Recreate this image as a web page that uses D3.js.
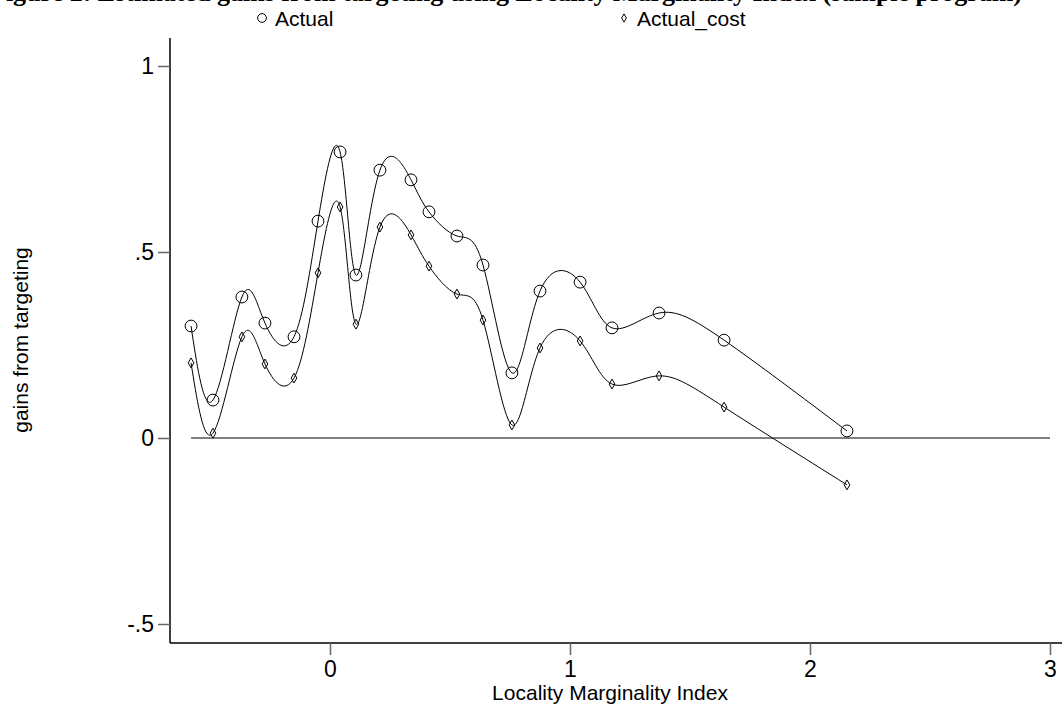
<!DOCTYPE html>
<html><head><meta charset="utf-8">
<script src="https://cdn.jsdelivr.net/npm/d3@7"></script>
<style>body{margin:0;background:#fff}text{font-family:"Liberation Sans",Arial,sans-serif}</style>
</head><body>
<script>
var xVals = [-0.579,-0.4875,-0.367,-0.271,-0.15,-0.05,0.042,0.108,0.208,0.3375,0.4125,0.529,0.6375,0.758,0.875,1.042,1.175,1.371,1.642,2.154];
var actual = [0.301,0.102,0.379,0.309,0.272,0.583,0.769,0.438,0.720,0.694,0.608,0.543,0.465,0.175,0.395,0.419,0.296,0.336,0.263,0.019];
var actualCost = [0.202,0.013,0.272,0.199,0.161,0.444,0.621,0.306,0.567,0.546,0.462,0.387,0.317,0.035,0.242,0.261,0.145,0.167,0.083,-0.126];
var xTicks = [0,1,2,3];
var yTicks = [-0.5,0,0.5,1];
var yLabels = ["-.5","0",".5","1"];

var WIDTH=1062,HEIGHT=710;
var _xScale = d3.scaleLinear().domain([0,3]).range([330,1050]);
var _yScale = d3.scaleLinear().domain([0,1]).range([438,66]);

var _svg = d3.select('body').append('svg').attr('width',WIDTH).attr('height',HEIGHT);

// clipped title
_svg.append('text').attr('x',-10).attr('y',1)
    .attr('font-weight','bold').attr('font-size',26)
    .style('font-family','"Liberation Serif",serif')
    .text('Figure 2: Estimated gains from targeting using Locality Marginality Index (sample program)');

// axes
var yAxis = d3.axisLeft(_yScale).tickValues(yTicks).tickFormat(function(d,i){return yLabels[i]}).tickSize(12).tickPadding(4);
var gy = _svg.append('g').attr('transform','translate(170,0)').call(yAxis);
gy.select('.domain').attr('d','M0,643V38');
var xAxis = d3.axisBottom(_xScale).tickValues(xTicks).tickFormat(d3.format('d')).tickSize(12).tickPadding(6);
var gx = _svg.append('g').attr('transform','translate(0,643)').call(xAxis);
gx.select('.domain').attr('d','M170,0H1062');
_svg.selectAll('.tick text').attr('font-size',23).style('font-family','"Liberation Sans",Arial,sans-serif').attr('fill','#000');
_svg.selectAll('.domain').attr('stroke','#000').attr('stroke-width',1.5);
_svg.selectAll('.tick line').attr('stroke','#666').attr('stroke-width',1.5);

_svg.append('text').attr('x',610).attr('y',700).attr('text-anchor','middle').attr('font-size',21).text('Locality Marginality Index');
_svg.append('text').attr('transform','translate(28,340) rotate(-90)').attr('text-anchor','middle').attr('font-size',21).text('gains from targeting');

// zero line
_svg.append('line').attr('x1',_xScale(xVals[0])).attr('x2',1050).attr('y1',_yScale(0)).attr('y2',_yScale(0)).attr('stroke','#000');

var createSeries = function(vals, shape){
    var data = xVals.map(function(x,i){return {x:x,y:vals[i]}});
    var line = d3.line().x(function(d){return _xScale(d.x)}).y(function(d){return _yScale(d.y)}).curve(d3.curveNatural);
    _svg.append('path').attr('d',line(data)).attr('fill','none').attr('stroke','#000').attr('stroke-width',1);
    var sym = shape=='circle' ? d3.symbol().type(d3.symbolCircle).size(110) : d3.symbol().type(d3.symbolDiamond).size(28);
    _svg.append('g').selectAll('path').data(data).enter().append('path')
        .attr('d',sym).attr('transform',function(d){return 'translate('+_xScale(d.x)+','+_yScale(d.y)+')'})
        .attr('fill','none').attr('stroke','#000');
}
createSeries(actual,'circle');
createSeries(actualCost,'diamond');

// legend
_svg.append('path').attr('d',d3.symbol().type(d3.symbolCircle).size(60)()).attr('transform','translate(262,18)').attr('fill','none').attr('stroke','#000');
_svg.append('text').attr('x',275).attr('y',26).attr('font-size',21).text('Actual');
_svg.append('path').attr('d',d3.symbol().type(d3.symbolDiamond).size(20)()).attr('transform','translate(624,18)').attr('fill','none').attr('stroke','#000');
_svg.append('text').attr('x',637).attr('y',26).attr('font-size',21).text('Actual_cost');
</script>
</body></html>
